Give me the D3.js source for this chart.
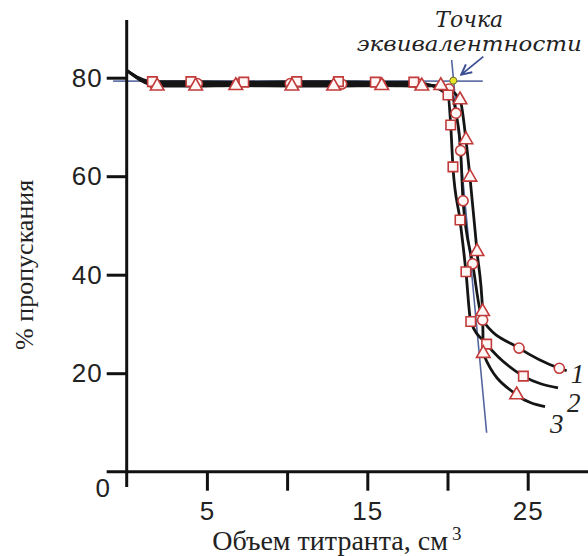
<!DOCTYPE html>
<head>
    <meta charset="utf-8">
    <title>Титрование</title>
    <style>
        body { margin: 0; background: #fff; }
        .tick text { font-family: "Liberation Sans", Arial, sans-serif; font-size: 26px; fill: #222; letter-spacing: 1px; }
        .axis-title { font-family: "Liberation Serif", "Times New Roman", serif; font-size: 26px; fill: #222; }
        .note { font-family: "DejaVu Serif", serif; font-style: italic; fill: #222; }
        .curve-label { font-family: "Liberation Serif", serif; font-style: italic; font-size: 27px; fill: #222; }
    </style>
    <script src="https://d3js.org/d3.v7.min.js"></script>
</head>
<body>
    <script>
        // three titrations: titrant volume (cm3) vs % transmission
        var volumes1 = [1.7, 4.4, 6.9, 10.2, 13.4, 15.8, 18.2, 20.09, 20.53, 20.82, 20.97, 21.57, 22.19, 24.46, 26.97];
        var transmit1 = [78.8, 78.8, 78.7, 78.8, 78.7, 78.8, 78.7, 77.7, 72.8, 65.2, 55.0, 42.2, 30.8, 25.1, 21.0];
        var volumes2 = [1.6, 4.0, 7.3, 10.6, 13.2, 15.5, 17.9, 20.03, 20.2, 20.34, 20.78, 21.15, 21.45, 22.44, 24.73];
        var transmit2 = [79.2, 79.2, 79.1, 79.2, 79.2, 79.1, 79.1, 76.5, 70.4, 61.9, 51.1, 40.6, 30.5, 25.9, 19.4];
        var volumes3 = [1.9, 4.3, 6.8, 10.3, 12.9, 15.9, 18.4, 19.58, 20.78, 21.15, 21.4, 21.84, 22.19, 22.23, 24.31];
        var transmit3 = [78.3, 78.3, 78.4, 78.3, 78.3, 78.4, 78.3, 78.4, 75.5, 67.4, 59.8, 44.7, 32.5, 24.0, 15.6];

        // where each drawn curve begins and ends (no marker there)
        var curveStart = [0, 81.5];
        var tailVolume = [27.43, 26.89, 26.08];
        var tailTransmit = [20.5, 17.0, 13.2];
        var curveNames = ["1", "2", "3"];

        // tangent lines and equivalence point
        var plateauLine = [[-0.85, 79.3], [22.2, 79.3]];
        var dropLine = [[20.26, 83.6], [22.44, 7.9]];
        var equivPoint = [20.36, 79.4];

        var xTicks = [5, 10, 15, 20, 25];
        var xTickLabels = { 5: "5", 15: "15", 25: "25" };
        var yTicks = [20, 40, 60, 80];

        var width = 588, height = 556;

        var x = d3.scaleLinear()
            .domain([0, 25])
            .range([126.7, 527.7]);

        var y = d3.scaleLinear()
            .domain([0, 80])
            .range([471.7, 77.7]);

        var svg = d3.select("body")
            .append("svg")
            .attr("width", width)
            .attr("height", height);

        // blue construction lines go underneath
        var guide = d3.line().x(d => x(d[0])).y(d => y(d[1]));
        svg.append("path")
            .attr("d", guide(plateauLine))
            .attr("stroke", "#6475a8")
            .attr("stroke-width", 1.6)
            .attr("fill", "none");
        svg.append("path")
            .attr("d", guide(dropLine))
            .attr("stroke", "#5466a0")
            .attr("stroke-width", 1.6)
            .attr("fill", "none");

        // axes
        var y_axis = svg.append("g")
            .attr("class", "axis")
            .attr("transform", "translate(" + x(0) + ",0)")
            .call(d3.axisLeft(y).tickValues(yTicks).tickSize(20).tickPadding(4));

        var x_axis = svg.append("g")
            .attr("class", "axis")
            .attr("transform", "translate(0," + y(0) + ")")
            .call(d3.axisBottom(x).tickValues(xTicks).tickSize(19).tickPadding(11)
                .tickFormat(d => xTickLabels[d] || ""));

        svg.selectAll(".axis .domain").remove();
        svg.selectAll(".axis line").attr("stroke", "#111").attr("stroke-width", 3);

        svg.append("line")
            .attr("x1", x(0)).attr("x2", x(0))
            .attr("y1", y(91.7)).attr("y2", y(-3.1))
            .attr("stroke", "#111").attr("stroke-width", 3);
        svg.append("line")
            .attr("x1", x(-1.25)).attr("x2", width)
            .attr("y1", y(0)).attr("y2", y(0))
            .attr("stroke", "#111").attr("stroke-width", 3);

        svg.append("text")
            .attr("x", x(-1.5))
            .attr("y", y(-3.3))
            .attr("text-anchor", "middle")
            .attr("dy", "0.35em")
            .style("font-family", "Liberation Sans, Arial, sans-serif")
            .style("font-size", "26px")
            .style("fill", "#222")
            .text("0");

        // axis titles
        var xTitle = svg.append("text")
            .attr("class", "axis-title")
            .attr("x", x(13.1))
            .attr("y", 550)
            .attr("text-anchor", "middle")
            .style("font-size", "28px");
        xTitle.append("tspan").text("Объем титранта, см");
        xTitle.append("tspan").attr("dy", -10).attr("dx", 4).style("font-size", "19px").text("3");

        svg.append("text")
            .attr("class", "axis-title")
            .attr("transform", "translate(33," + y(42) + ") rotate(-90)")
            .attr("text-anchor", "middle")
            .text("% пропускания");

        // curves
        var seriesX = [volumes1, volumes2, volumes3];
        var seriesY = [transmit1, transmit2, transmit3];
        var symbols = [d3.symbolCircle, d3.symbolSquare, d3.symbolTriangle];
        var symbolSizes = [80, 90, 80];

        var line = d3.line()
            .x(d => x(d[0]))
            .y(d => y(d[1]))
            .curve(d3.curveMonotoneX);

        var curves = seriesX.map(function (xs, i) {
            var pts = xs.map((v, j) => [v, seriesY[i][j]]);
            return [curveStart].concat(pts, [[tailVolume[i], tailTransmit[i]]]);
        });

        svg.append("g")
            .selectAll("path")
            .data(curves)
            .enter()
            .append("path")
            .attr("d", line)
            .attr("fill", "none")
            .attr("stroke", "#151515")
            .attr("stroke-width", 2.8);

        seriesX.forEach(function (xs, i) {
            var pts = xs.map((v, j) => [v, seriesY[i][j]]);
            svg.append("g")
                .selectAll("path")
                .data(pts)
                .enter()
                .append("path")
                .attr("transform", d => "translate(" + x(d[0]) + "," + y(d[1]) + ")")
                .attr("d", d3.symbol().type(symbols[i]).size(symbolSizes[i]))
                .attr("fill", "#fff6f6")
                .attr("stroke", "#c23b3b")
                .attr("stroke-width", 1.6);
        });

        // curve numbers
        svg.append("g")
            .selectAll("text")
            .data(curveNames)
            .enter()
            .append("text")
            .attr("class", "curve-label")
            .attr("x", (d, i) => x(tailVolume[i]) + [4, 9, 5][i])
            .attr("y", (d, i) => y(tailTransmit[i]) + [12, 24, 26][i])
            .text(d => d);

        // equivalence point and annotation
        svg.append("circle")
            .attr("cx", x(equivPoint[0]))
            .attr("cy", y(equivPoint[1]))
            .attr("r", 3.5)
            .attr("fill", "#e9e62a")
            .attr("stroke", "#6b6a20")
            .attr("stroke-width", 1);

        svg.append("defs").append("marker")
            .attr("id", "arrow")
            .attr("viewBox", "0 0 10 10")
            .attr("refX", 9).attr("refY", 5)
            .attr("markerWidth", 7).attr("markerHeight", 7)
            .attr("orient", "auto")
            .append("path")
            .attr("d", "M1,1 L9,5 L1,9")
            .attr("fill", "none")
            .attr("stroke", "#3d4f94")
            .attr("stroke-width", 1.6);

        svg.append("line")
            .attr("x1", x(equivPoint[0]) + 30).attr("y1", y(equivPoint[1]) - 24)
            .attr("x2", x(equivPoint[0]) + 8).attr("y2", y(equivPoint[1]) - 6)
            .attr("stroke", "#3d4f94")
            .attr("stroke-width", 1.8)
            .attr("marker-end", "url(#arrow)");

        svg.append("text")
            .attr("class", "note")
            .attr("x", x(equivPoint[0]) + 16)
            .attr("y", 27)
            .attr("text-anchor", "middle")
            .style("font-size", "22px")
            .text("Точка");
        svg.append("text")
            .attr("class", "note")
            .attr("x", x(equivPoint[0]) + 16)
            .attr("y", 51)
            .attr("text-anchor", "middle")
            .style("font-size", "21px")
            .attr("textLength", 225)
            .attr("lengthAdjust", "spacingAndGlyphs")
            .text("эквивалентности");
    </script>
</body>
